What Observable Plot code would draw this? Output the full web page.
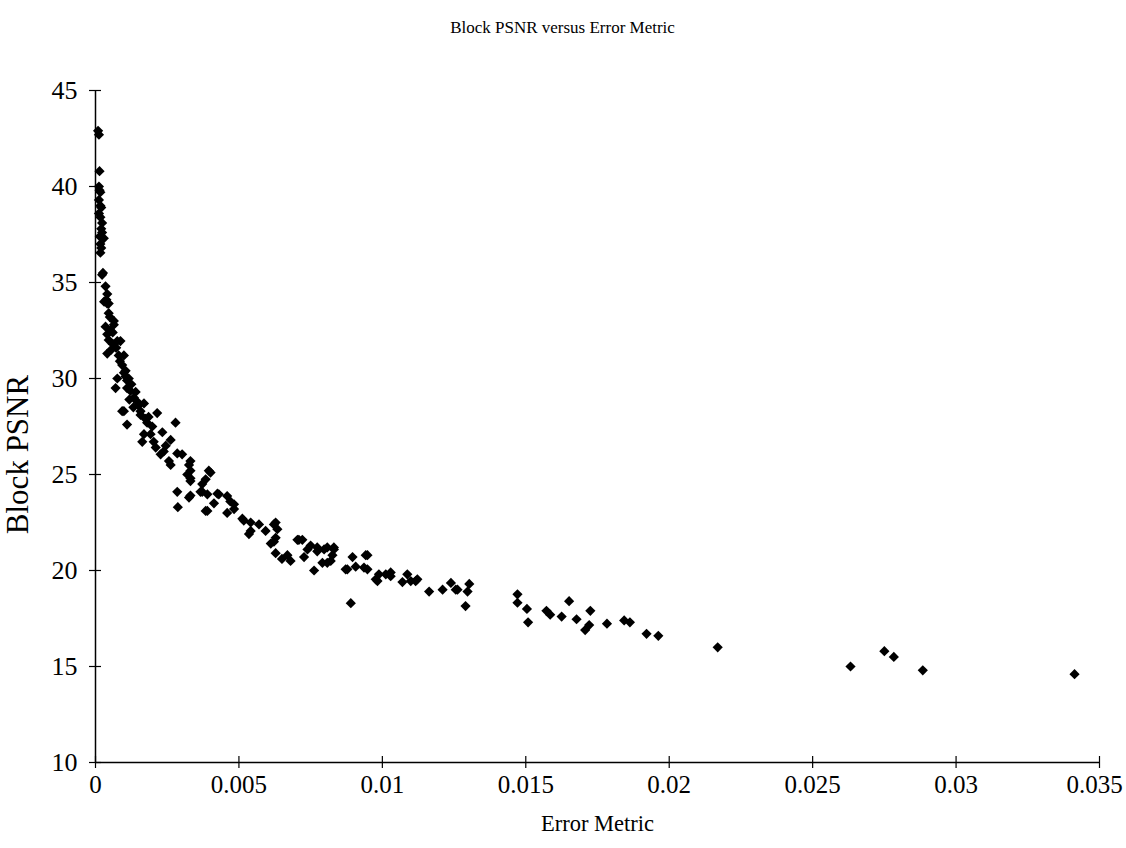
<!DOCTYPE html>
<html>
<head>
<meta charset="utf-8">
<script src="https://cdn.jsdelivr.net/npm/d3@7"></script>
<script src="https://cdn.jsdelivr.net/npm/@observablehq/plot@0.6"></script>
<style>
  html, body { margin: 0; padding: 0; background: #fff; }
  #chart { width: 1126px; height: 848px; }
</style>
</head>
<body>
<div id="chart"></div>
<script>
const title = "Block PSNR versus Error Metric";
const xLabel = "Error Metric";
const yLabel = "Block PSNR";
const xTicks = [0, 0.005, 0.01, 0.015, 0.02, 0.025, 0.03, 0.035];
const xTickLabels = ["0", "0.005", "0.01", "0.015", "0.02", "0.025", "0.03", "0.035"];
const yTicks = [10, 15, 20, 25, 30, 35, 40, 45];

const errorMetric = [
  0.00009, 0.00012, 0.00014, 0.00012, 0.00017, 0.00012, 0.00017, 0.00012, 0.00017, 0.00023,
  0.00020, 0.00023, 0.00029, 0.00017, 0.00020, 0.00017, 0.00023, 0.00026, 0.00035, 0.00041,
  0.00038, 0.00046, 0.00046, 0.00041, 0.00064, 0.00035, 0.00052, 0.00064, 0.00041, 0.00046,
  0.00076, 0.00087, 0.00041, 0.00055, 0.00081, 0.00099, 0.00093, 0.00099, 0.00105, 0.00116,
  0.00076, 0.00105, 0.00070, 0.00110, 0.00110, 0.00122, 0.00134, 0.00145, 0.00169, 0.00093,
  0.00099, 0.00157, 0.00157, 0.00215, 0.00110, 0.00180, 0.00174, 0.00279, 0.00169, 0.00192,
  0.00233, 0.00163, 0.00203, 0.00262, 0.00238, 0.00227, 0.00285, 0.00256, 0.00262, 0.00302,
  0.00326, 0.00331, 0.00331, 0.00320, 0.00395, 0.00401, 0.00331, 0.00331, 0.00384, 0.00372,
  0.00285, 0.00372, 0.00366, 0.00331, 0.00326, 0.00425, 0.00390, 0.00430, 0.00459, 0.00413,
  0.00483, 0.00287, 0.00384, 0.00390, 0.00459, 0.00483, 0.00512, 0.00517, 0.00541, 0.00570,
  0.00541, 0.00535, 0.00593, 0.00622, 0.00628, 0.00634, 0.00628, 0.00611, 0.00622, 0.00628,
  0.00669, 0.00704, 0.00709, 0.00721, 0.00739, 0.00750, 0.00773, 0.00773, 0.00797, 0.00808,
  0.00831, 0.00831, 0.00727, 0.00762, 0.00791, 0.00820, 0.00826, 0.00808, 0.00896, 0.00942,
  0.00948, 0.00872, 0.00878, 0.00907, 0.00936, 0.00948, 0.00890, 0.00983, 0.00977, 0.00988,
  0.01012, 0.01029, 0.01029, 0.01087, 0.01070, 0.01099, 0.01116, 0.01122, 0.01163, 0.01210,
  0.01239, 0.01256, 0.01262, 0.01303, 0.01297, 0.01290, 0.01471, 0.01471, 0.01504, 0.01508,
  0.01572, 0.01585, 0.01625, 0.01651, 0.01677, 0.01725, 0.01721, 0.01707, 0.01783, 0.01843,
  0.01863, 0.01921, 0.01962, 0.02169, 0.02632, 0.02750, 0.02783, 0.02884, 0.03413, 0.00650,
  0.00680, 0.00470, 0.00014, 0.00020, 0.00015, 0.00060, 0.00072, 0.00085, 0.00125, 0.00140,
  0.00150, 0.00185, 0.00198, 0.00118, 0.00132, 0.00245, 0.00210, 0.00060, 0.00030, 0.00050
];
const blockPSNR = [
  42.9, 42.7, 40.8, 40.0, 39.7, 39.3, 39.0, 38.6, 38.4, 38.1,
  37.8, 37.6, 37.3, 37.0, 36.8, 36.55, 35.4, 35.5, 34.8, 34.4,
  34.1, 33.9, 33.4, 33.9, 33.0, 32.7, 32.5, 32.8, 32.3, 32.0,
  31.95, 31.95, 31.3, 31.5, 31.2, 31.2, 30.7, 30.3, 30.4, 30.0,
  30.0, 30.1, 29.5, 29.9, 29.5, 29.35, 29.0, 28.8, 28.7, 28.3,
  28.3, 28.1, 28.3, 28.2, 27.6, 27.7, 27.9, 27.7, 27.1, 27.1,
  27.2, 26.7, 26.7, 26.8, 26.2, 26.05, 26.1, 25.7, 25.5, 26.05,
  25.5, 25.7, 25.2, 25.0, 25.2, 25.1, 24.8, 24.66, 24.75, 24.5,
  24.1, 24.1, 24.1, 23.9, 23.8, 24.0, 23.97, 23.97, 23.88, 23.5,
  23.45, 23.3, 23.1, 23.1, 23.0, 23.2, 22.7, 22.6, 22.5, 22.4,
  22.06, 21.9, 22.06, 22.4, 22.5, 22.15, 21.7, 21.4, 21.5, 20.9,
  20.8, 21.6, 21.6, 21.6, 21.1, 21.3, 21.2, 21.0, 21.1, 21.2,
  21.2, 21.1, 20.7, 20.0, 20.4, 20.5, 20.8, 20.4, 20.7, 20.8,
  20.8, 20.06, 20.06, 20.2, 20.15, 20.06, 18.3, 19.45, 19.54, 19.8,
  19.8, 19.7, 19.9, 19.8, 19.4, 19.45, 19.45, 19.54, 18.9, 19.0,
  19.35, 19.0, 19.0, 19.3, 18.9, 18.15, 18.76, 18.32, 18.0, 17.3,
  17.9, 17.7, 17.6, 18.4, 17.46, 17.9, 17.16, 16.9, 17.23, 17.4,
  17.3, 16.7, 16.6, 16.0, 15.0, 15.8, 15.5, 14.8, 14.6, 20.6,
  20.5, 23.6, 39.8, 38.9, 37.4, 32.4, 31.6, 30.9, 29.7, 29.3,
  28.6, 28.0, 27.5, 28.9, 28.5, 26.5, 26.4, 31.8, 34.0, 33.2
];

const points = errorMetric.map((x, i) => ({x, y: blockPSNR[i]}));
const font = "'Liberation Serif', 'Times New Roman', serif";
const fmtX = d => xTickLabels[xTicks.indexOf(d)];
const lastTick = xTicks[xTicks.length - 1];

const chart = Plot.plot({
  width: 1126,
  height: 848,
  marginLeft: 95,
  marginRight: 27,
  marginTop: 90,
  marginBottom: 86,
  style: {fontFamily: font, color: "black", background: "white"},
  x: {domain: [0, 0.035], ticks: xTicks},
  y: {domain: [10, 45], ticks: yTicks},
  marks: [
    Plot.ruleX([0], {stroke: "black", strokeWidth: 1.5}),
    Plot.ruleY([10], {stroke: "black", strokeWidth: 1.5}),
    Plot.ruleX(xTicks, {x: d => d, y1: 10, y2: 10, insetTop: 6, insetBottom: 6, stroke: "black", strokeWidth: 1.2}),
    Plot.ruleY(yTicks, {y: d => d, x1: 0, x2: 0, insetLeft: 6, insetRight: 6, stroke: "black", strokeWidth: 1.2}),
    Plot.axisX({ticks: xTicks.slice(0, -1), tickSize: 0, tickPadding: 13, fontSize: 25, label: null, tickFormat: fmtX}),
    Plot.axisX({ticks: [lastTick], tickSize: 0, tickPadding: 13, fontSize: 25, label: null, tickFormat: fmtX, dx: -5}),
    Plot.axisY({ticks: yTicks, tickSize: 0, tickPadding: 18, fontSize: 26, label: null}),
    Plot.dot(points, {x: "x", y: "y", symbol: "diamond2", r: 4.6, fill: "black", stroke: "none"}),
    Plot.text([title], {frameAnchor: "top", dy: -70, dx: -35, fontSize: 17, fill: "black"}),
    Plot.text([xLabel], {frameAnchor: "bottom", dy: 68, fontSize: 22.5, fill: "black"}),
    Plot.text([yLabel], {frameAnchor: "left", dx: -77, dy: 28, rotate: -90, textAnchor: "middle", fontSize: 31, fill: "black"})
  ]
});
document.getElementById("chart").appendChild(chart);
</script>
</body>
</html>
